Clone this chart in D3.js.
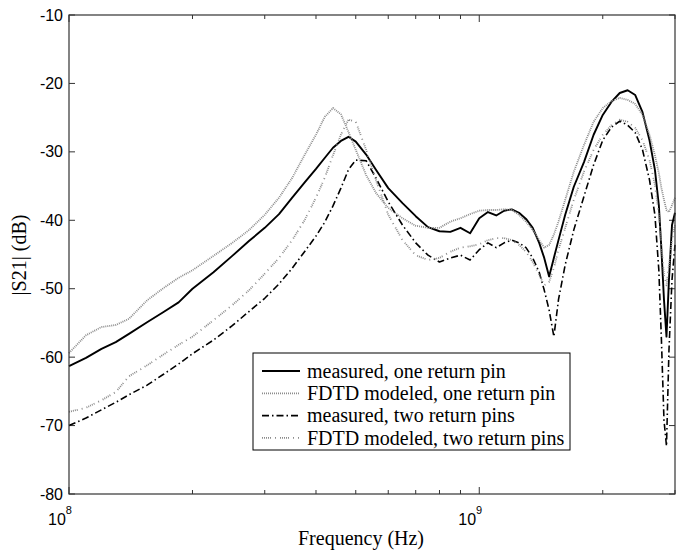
<!DOCTYPE html>
<html>
<head>
<meta charset="utf-8">
<script src="https://cdn.jsdelivr.net/npm/d3@7"></script>
<style>
  body { margin: 0; background: #fff; }
  svg { display: block; }
  .tick-label { font-family: "Liberation Sans", Arial, sans-serif; font-size: 16px; fill: #000; }
  .serif { font-family: "Liberation Serif", "Times New Roman", serif; fill: #000; }
</style>
</head>
<body>
<div id="chart"></div>
<script>
// frequency grid (Hz) and |S21| in dB
var freqHz = [1.00e8, 1.10e8, 1.20e8, 1.30e8, 1.40e8, 1.55e8, 1.70e8, 1.85e8, 2.00e8, 2.25e8,
              2.50e8, 2.75e8, 3.00e8, 3.25e8, 3.50e8, 3.75e8, 4.00e8, 4.20e8, 4.40e8, 4.60e8,
              4.80e8, 5.00e8, 5.30e8, 5.60e8, 6.00e8, 6.50e8, 7.00e8, 7.50e8, 8.00e8, 8.50e8,
              9.00e8, 9.50e8, 1.00e9, 1.05e9, 1.10e9, 1.15e9, 1.20e9, 1.25e9, 1.30e9, 1.35e9,
              1.40e9, 1.44e9, 1.48e9, 1.52e9, 1.56e9, 1.62e9, 1.70e9, 1.80e9, 1.90e9, 2.00e9,
              2.10e9, 2.20e9, 2.30e9, 2.40e9, 2.50e9, 2.60e9, 2.68e9, 2.74e9, 2.78e9, 2.82e9,
              2.86e9, 2.90e9, 2.95e9, 3.00e9];

var measuredOnePin = [-61.3, -60.1, -58.8, -57.8, -56.6, -54.9, -53.4, -52.0, -50.0, -47.6,
                      -45.2, -43.0, -41.1, -39.1, -36.7, -34.5, -32.5, -30.9, -29.4, -28.4,
                      -27.8, -28.5, -30.4, -32.6, -35.3, -37.5, -39.4, -41.0, -41.6, -41.7,
                      -41.1, -41.9, -39.7, -38.8, -39.3, -38.6, -38.4, -38.9, -39.8, -41.1,
                      -43.3, -45.5, -48.2, -45.5, -42.9, -39.2, -35.1, -31.5, -27.5, -24.6,
                      -22.7, -21.4, -21.0, -21.7, -24.2, -28.3, -32.6, -37.8, -44.3, -51.6,
                      -57.0, -48.7, -40.7, -38.9];

var fdtdOnePin = [-59.4, -56.8, -55.6, -55.3, -54.4, -51.7, -49.9, -48.4, -47.3, -45.2,
                  -43.3, -41.4, -39.2, -36.7, -33.8, -30.5, -27.5, -24.9, -23.6, -24.5,
                  -27.1, -29.7, -33.4, -36.0, -38.2, -39.7, -40.8, -41.1, -41.1, -40.2,
                  -39.7, -39.1, -38.6, -38.5, -38.5, -38.4, -38.5, -39.2, -40.2, -41.4,
                  -42.9, -44.0, -43.6, -42.1, -40.2, -37.0, -32.9, -29.0, -25.6, -23.6,
                  -22.6, -22.1, -22.4, -23.0, -24.6, -27.5, -30.5, -33.1, -35.3, -37.0,
                  -38.5, -38.8, -37.8, -36.7];

var measuredTwoPins = [-70.0, -68.9, -67.7, -66.6, -65.5, -64.1, -62.5, -61.0, -59.5, -57.5,
                       -55.4, -53.3, -51.4, -49.3, -47.0, -44.6, -42.3, -40.3, -37.9, -35.3,
                       -32.6, -31.2, -31.3, -33.8, -37.3, -40.7, -43.3, -45.1, -46.1, -45.5,
                       -45.1, -45.8, -44.3, -43.3, -44.0, -43.3, -42.9, -43.3, -44.0, -45.5,
                       -47.6, -50.2, -53.1, -57.0, -51.6, -46.5, -41.4, -36.5, -31.9, -28.3,
                       -26.4, -25.5, -26.1, -27.2, -29.7, -34.1, -39.2, -47.3, -57.5, -69.2,
                       -73.0, -59.0, -48.7, -43.6];

var fdtdTwoPins = [-68.0, -67.4, -66.3, -65.1, -62.8, -61.2, -59.6, -58.2, -57.0, -54.6,
                   -52.4, -50.2, -47.8, -45.5, -42.9, -40.0, -36.7, -33.8, -30.5, -27.5,
                   -25.3, -25.6, -29.7, -34.1, -39.2, -42.9, -45.1, -45.8, -45.5, -44.6,
                   -44.0, -43.8, -43.5, -42.9, -42.6, -42.6, -42.9, -43.6, -44.6, -46.1,
                   -48.0, -49.5, -49.0, -47.0, -44.3, -41.1, -37.0, -32.9, -29.7, -27.5,
                   -26.1, -25.3, -25.6, -26.5, -28.3, -31.2, -34.8, -39.2, -43.6, -48.0,
                   -49.5, -46.5, -42.9, -40.7];

var yTicks = [-80, -70, -60, -50, -40, -30, -20, -10];
var xMajor = [1e8, 1e9];
var xMinor = [2e8, 3e8, 4e8, 5e8, 6e8, 7e8, 8e8, 9e8, 2e9, 3e9];

var series = [
  {name: "measured, one return pin", values: measuredOnePin, stroke: "#000", width: 1.9, dash: null},
  {name: "FDTD modeled, one return pin", values: fdtdOnePin, stroke: "#8c8c8c", width: 1.8, dash: "1,1"},
  {name: "measured, two return pins", values: measuredTwoPins, stroke: "#000", width: 1.6, dash: "7,3,1.5,3"},
  {name: "FDTD modeled, two return pins", values: fdtdTwoPins, stroke: "#8c8c8c", width: 1.8, dash: "1,1,1,1,1,1,1,1,1,4,1,4"}
];

var W = 679, H = 550;
var margin = {top: 15, right: 4, bottom: 56, left: 69},
    width = W - margin.left - margin.right,
    height = H - margin.top - margin.bottom;

var svg = d3.select("#chart").append("svg")
    .attr("width", W)
    .attr("height", H);

var g = svg.append("g")
    .attr("transform", "translate(" + margin.left + "," + margin.top + ")");

var x = d3.scaleLog()
    .domain([1e8, 3e9])
    .range([0, width]);

var y = d3.scaleLinear()
    .domain([-80, -10])
    .range([height, 0]);

// ticks inside the box on all four sides, matlab style
var axisColor = "#333";
yTicks.forEach(function(t) {
  g.append("line").attr("x1", 0).attr("x2", 6).attr("y1", y(t)).attr("y2", y(t)).attr("stroke", axisColor);
  g.append("line").attr("x1", width).attr("x2", width - 6).attr("y1", y(t)).attr("y2", y(t)).attr("stroke", axisColor);
  g.append("text")
      .attr("class", "tick-label")
      .attr("x", -6)
      .attr("y", y(t))
      .attr("dy", "0.35em")
      .attr("text-anchor", "end")
      .text(t);
});

xMajor.forEach(function(t) {
  g.append("line").attr("x1", x(t)).attr("x2", x(t)).attr("y1", height).attr("y2", height - 7).attr("stroke", axisColor);
  g.append("line").attr("x1", x(t)).attr("x2", x(t)).attr("y1", 0).attr("y2", 7).attr("stroke", axisColor);
  var lab = g.append("text")
      .attr("class", "tick-label")
      .attr("x", x(t) - 9)
      .attr("y", height + 31)
      .attr("text-anchor", "middle");
  lab.append("tspan").text("10");
  lab.append("tspan")
      .attr("dy", -11)
      .attr("font-size", 11)
      .text(Math.round(Math.log10(t)));
});

xMinor.forEach(function(t) {
  g.append("line").attr("x1", x(t)).attr("x2", x(t)).attr("y1", height).attr("y2", height - 4).attr("stroke", axisColor);
  g.append("line").attr("x1", x(t)).attr("x2", x(t)).attr("y1", 0).attr("y2", 4).attr("stroke", axisColor);
});

// the curves
var line = d3.line()
    .x(function(d, i) { return x(freqHz[i]); })
    .y(function(d) { return y(d); });

g.append("g")
    .selectAll("path")
    .data(series)
  .enter().append("path")
    .attr("d", function(d) { return line(d.values); })
    .attr("fill", "none")
    .attr("stroke", function(d) { return d.stroke; })
    .attr("stroke-width", function(d) { return d.width; })
    .attr("stroke-dasharray", function(d) { return d.dash; })
    .attr("stroke-linejoin", "round");

// box
g.append("rect")
    .attr("width", width)
    .attr("height", height)
    .attr("fill", "none")
    .attr("stroke", axisColor)
    .attr("stroke-width", 1.2);

// legend
var legend = g.append("g")
    .attr("transform", "translate(" + (253 - margin.left) + "," + (353 - margin.top) + ")");

legend.append("rect")
    .attr("width", 317)
    .attr("height", 97)
    .attr("fill", "#fff")
    .attr("stroke", "#000")
    .attr("stroke-width", 1);

var rows = legend.selectAll(".row")
    .data(series)
  .enter().append("g")
    .attr("class", "row")
    .attr("transform", function(d, i) { return "translate(0," + (18 + i * 22.3) + ")"; });

rows.append("line")
    .attr("x1", 9)
    .attr("x2", 47)
    .attr("stroke", function(d) { return d.stroke; })
    .attr("stroke-width", function(d) { return d.width; })
    .attr("stroke-dasharray", function(d) { return d.dash; });

rows.append("text")
    .attr("class", "serif")
    .attr("x", 54)
    .attr("dy", "0.33em")
    .attr("font-size", 20)
    .text(function(d) { return d.name; });

// axis titles
g.append("text")
    .attr("class", "serif")
    .attr("x", 292)
    .attr("y", height + 51)
    .attr("text-anchor", "middle")
    .attr("font-size", 20)
    .text("Frequency (Hz)");

g.append("text")
    .attr("class", "serif")
    .attr("transform", "translate(-43," + (255 - margin.top) + ") rotate(-90)")
    .attr("text-anchor", "middle")
    .attr("font-size", 20)
    .text("|S21| (dB)");
</script>
</body>
</html>
